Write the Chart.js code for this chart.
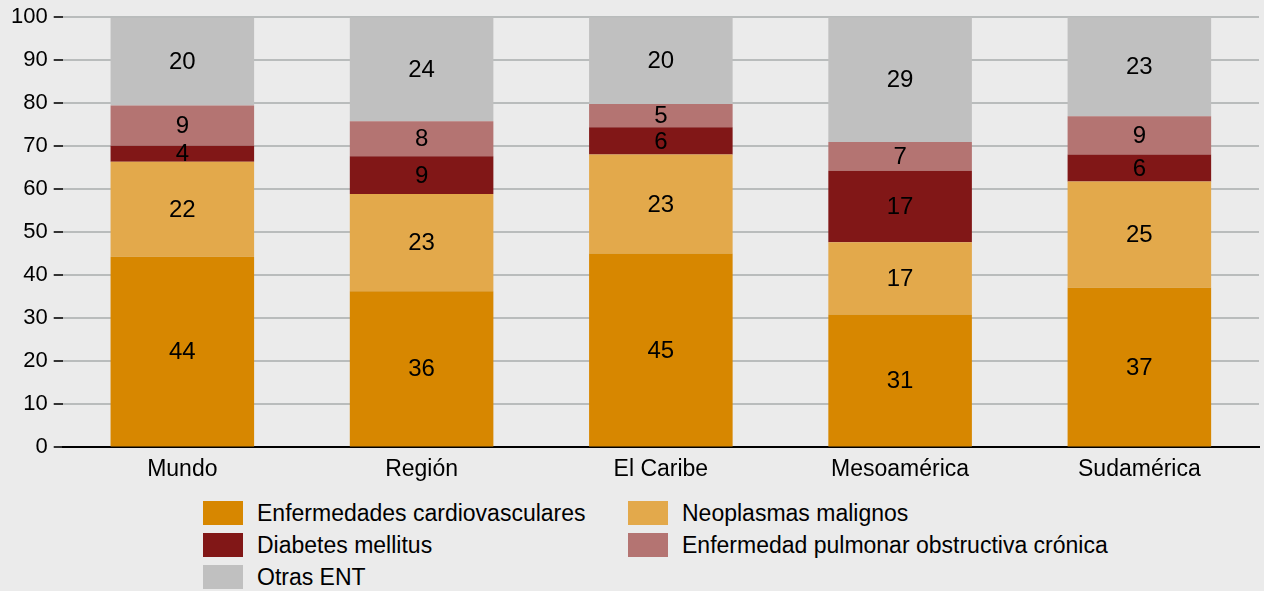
<!DOCTYPE html>
<html>
<head>
<meta charset="utf-8">
<script src="https://cdn.jsdelivr.net/npm/chart.js@4.4.1/dist/chart.umd.min.js"></script>
<style>
    body { margin: 0; background: #ebebeb; font-family: "Liberation Sans", Arial, sans-serif; }
    #wrap { position: relative; width: 1264px; height: 497px; margin-top: -2px; }
    #legend { display: grid; grid-template-columns: 425px auto; margin-left: 203px; margin-top: 2px; }
    .item { height: 32px; display: flex; align-items: center; font-size: 23px; color: #000; }
    .box { width: 40px; height: 24px; margin-right: 14px; display: inline-block; }
</style>
</head>
<body>
<div id="wrap"><canvas id="myChart"></canvas></div>
<div id="legend"></div>
<script>
const categories = ['Mundo', 'Región', 'El Caribe', 'Mesoamérica', 'Sudamérica'];
const cardiovasculares = [44.3, 36.3, 45.1, 30.9, 37.1];
const neoplasmas = [22.1, 22.6, 23.0, 16.8, 24.7];
const diabetes = [3.7, 8.8, 6.3, 16.6, 6.3];
const epoc = [9.4, 8.1, 5.4, 6.7, 8.9];
const otras = [20.4, 24.2, 20.2, 29.0, 23.0];

const ctx = document.getElementById('myChart');
Chart.defaults.color = '#000';
Chart.defaults.font.family = '"Liberation Sans", Arial, sans-serif';

// draws the rounded value in the middle of each segment
const barLabels = {
    id: 'barLabels',
    afterDatasetsDraw(chart) {
        const c = chart.ctx;
        c.save();
        c.font = '24px "Liberation Sans", Arial, sans-serif';
        c.fillStyle = '#000';
        c.textAlign = 'center';
        c.textBaseline = 'middle';
        chart.data.datasets.forEach((ds, i) => {
            chart.getDatasetMeta(i).data.forEach((bar, j) => {
                const mid = (bar.y + bar.base) / 2;
                c.fillText(Math.round(ds.data[j]), bar.x, mid + 1);
            });
        });
        c.restore();
    }
};

const chart = new Chart(ctx, {
    type: 'bar',
    data: {
        labels: categories,
        datasets: [
            { label: 'Enfermedades cardiovasculares', data: cardiovasculares, backgroundColor: '#d78700' },
            { label: 'Neoplasmas malignos', data: neoplasmas, backgroundColor: '#e3a94b' },
            { label: 'Diabetes mellitus', data: diabetes, backgroundColor: '#811717' },
            { label: 'Enfermedad pulmonar obstructiva crónica', data: epoc, backgroundColor: '#b47472' },
            { label: 'Otras ENT', data: otras, backgroundColor: '#c0c0c0' },
        ]
    },
    options: {
        responsive: true,
        maintainAspectRatio: false,
        animation: false,
        layout: { padding: { top: 0, right: 5, left: 5, bottom: 12 } },
        datasets: { bar: { barPercentage: 0.6, categoryPercentage: 1, borderWidth: 0 } },
        plugins: {
            legend: { display: false },
            tooltip: { enabled: false }
        },
        scales: {
            x: {
                stacked: true,
                grid: { display: false },
                border: { color: '#000', width: 2 },
                ticks: { font: { size: 23 }, padding: 0 }
            },
            y: {
                stacked: true,
                min: 0,
                max: 100,
                ticks: { stepSize: 10, font: { size: 22 }, padding: 6 },
                grid: { color: '#b9bcbc', lineWidth: 2, tickColor: '#333', tickLength: 9 },
                border: { display: false }
            }
        }
    },
    plugins: [barLabels]
});

// two-column legend under the chart
const legend = document.getElementById('legend');
chart.data.datasets.forEach(ds => {
    const item = document.createElement('div');
    item.className = 'item';
    const box = document.createElement('span');
    box.className = 'box';
    box.style.background = ds.backgroundColor;
    item.appendChild(box);
    item.appendChild(document.createTextNode(ds.label));
    legend.appendChild(item);
});
</script>
</body>
</html>
